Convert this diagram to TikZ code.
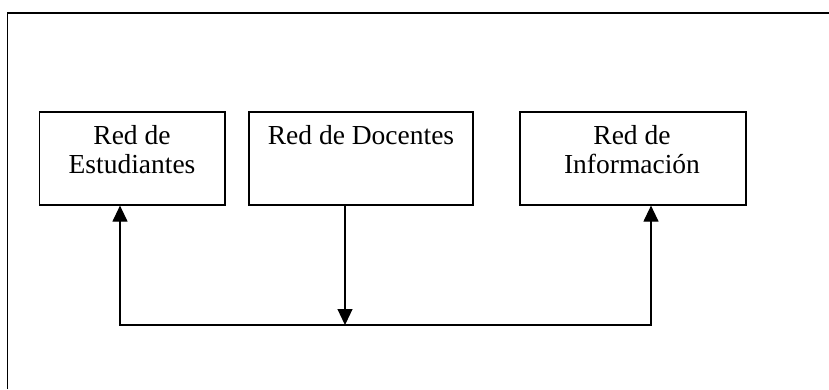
\documentclass[tikz,border=0pt]{standalone}
\usepackage{fontspec}
\setmainfont{Liberation Serif}
\usetikzlibrary{arrows.meta}
\usetikzlibrary{positioning}

\tikzset{
	redbox/.style={draw, line width=1.2pt, minimum height=93pt, inner sep=0pt},
	redtext/.style={align=center, anchor=north, inner sep=0pt, font=\fontsize{27.5}{29}\selectfont},
	bajada/.style={line width=1.2pt, -{Triangle[width=15pt,length=16pt]}},
	bus/.style={line width=1.2pt, {Triangle[width=15pt,length=16pt]}-{Triangle[width=15pt,length=16pt]}}
}

\begin{document}
\begin{tikzpicture}[x=1pt, y=-1pt]
			\useasboundingbox (0,0) rectangle (829,389);
			\draw[line width=1.5pt] (7.5,389) -- (7.5,13) -- (829,13);
			\node[redbox, minimum width=185.5pt] (estudiantes) at (132.25,158.5) {};
			\node[redbox, minimum width=224pt] (docentes) at (361,158.5) {};
			\node[redbox, minimum width=226pt] (informacion) at (633,158.5) {};
			\node[redtext] (estudiantesT) at (132,125) {Red de\\Estudiantes};
			\node[redtext] (docentesT) at (361,125) {Red de Docentes};
			\node[redtext] (informacionT) at (632,125) {Red de\\Información};
			\coordinate (busl) at (120,325);
			\coordinate (busm) at (345,325);
			\coordinate (busr) at (651,325);
			\draw[bajada] (docentes.south -| busm) -- (busm);
			\draw[bus] (estudiantes.south -| busl) -- (busl) -- (busr) -- (informacion.south -| busr);
		\end{tikzpicture}
\end{document}
